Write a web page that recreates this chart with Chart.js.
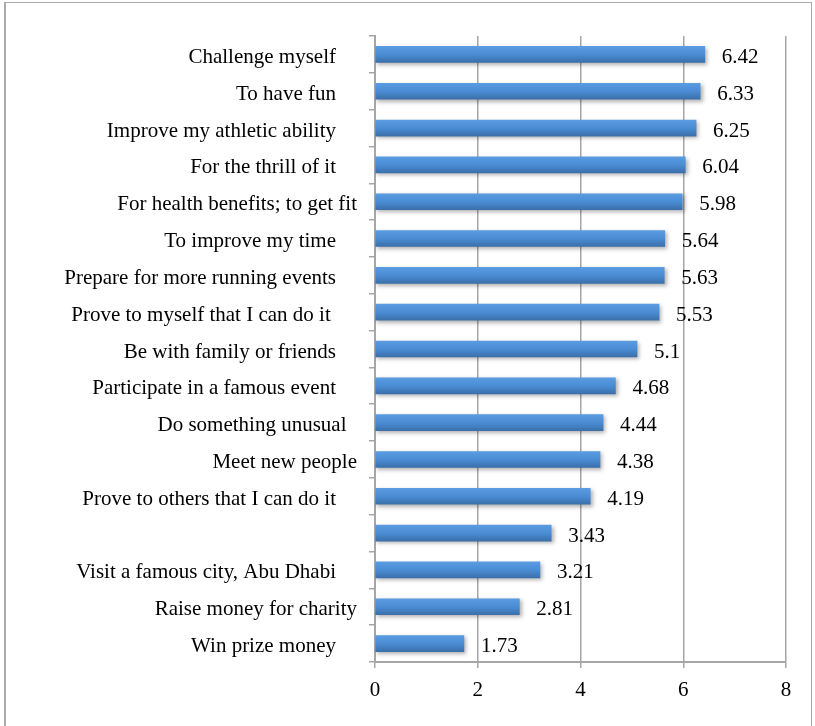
<!DOCTYPE html>
<html>
<head>
<meta charset="utf-8">
<script src="https://cdn.jsdelivr.net/npm/chart.js@4"></script>
<style>
  html, body { margin: 0; padding: 0; background: #fff; }
  #wrap { position: relative; width: 815px; height: 726px; }
  #frame { position: absolute; left: 4px; top: 2px; width: 808px; height: 730px; border: 1px solid #aaa; border-left-width: 2px; box-sizing: border-box; }
  canvas { position: absolute; left: 0; top: 0; }
</style>
</head>
<body>
<div id="wrap">
  <div id="frame"></div>
  <canvas id="motiveChart" width="815" height="726"></canvas>
</div>
<script>
const categories = [
  'Challenge myself    ',
  'To have fun    ',
  'Improve my athletic ability    ',
  'For the thrill of it    ',
  'For health benefits; to get fit',
  'To improve my time    ',
  'Prepare for more running events    ',
  'Prove to myself that I can do it     ',
  'Be with family or friends    ',
  'Participate in a famous event    ',
  'Do something unusual  ',
  'Meet new people',
  'Prove to others that I can do it    ',
  '',
  'Visit a famous city, Abu Dhabi    ',
  'Raise money for charity',
  'Win prize money    '
];
const meanScores = [6.42, 6.33, 6.25, 6.04, 5.98, 5.64, 5.63, 5.53, 5.1, 4.68, 4.44, 4.38, 4.19, 3.43, 3.21, 2.81, 1.73];
const xTicks = [0, 2, 4, 6, 8];

const serif = '"Liberation Serif", "Times New Roman", serif';

function barGradient(ctx) {
  const chart = ctx.chart;
  const y = chart.scales.y;
  if (!y || ctx.dataIndex === undefined) return '#4a8bd3';
  const cy = y.getPixelForValue(ctx.dataIndex);
  if (!isFinite(cy)) return '#4a8bd3';
  const g = chart.ctx.createLinearGradient(0, cy - 8, 0, cy + 8);
  g.addColorStop(0, '#5a9be1');
  g.addColorStop(0.5, '#4a8dd5');
  g.addColorStop(1, '#3b6faa');
  return g;
}

const shadowPlugin = {
  id: 'barShadow',
  beforeDatasetsDraw(chart) {
    const c = chart.ctx;
    c.save();
    c.shadowColor = 'rgba(0,0,0,0.3)';
    c.shadowBlur = 4;
    c.shadowOffsetX = 2;
    c.shadowOffsetY = 2;
  },
  afterDatasetsDraw(chart) {
    chart.ctx.restore();
  }
};

const valueLabels = {
  id: 'valueLabels',
  afterDatasetsDraw(chart) {
    const c = chart.ctx;
    const meta = chart.getDatasetMeta(0);
    c.save();
    c.font = '21px ' + serif;
    c.fillStyle = '#000';
    c.textAlign = 'left';
    c.textBaseline = 'middle';
    meta.data.forEach((bar, i) => {
      c.fillText(String(meanScores[i]), bar.x + 17, bar.y + 3);
    });
    c.restore();
  }
};

new Chart(document.getElementById('motiveChart'), {
  type: 'bar',
  data: {
    labels: categories,
    datasets: [{
      data: meanScores,
      backgroundColor: barGradient,
      borderWidth: 0,
      barThickness: 16
    }]
  },
  options: {
    indexAxis: 'y',
    responsive: false,
    animation: false,
    layout: { padding: { top: 36, right: 29, left: 0, bottom: 0 } },
    plugins: { legend: { display: false }, tooltip: { enabled: false } },
    scales: {
      x: {
        min: 0,
        max: 8,
        afterBuildTicks(scale) { scale.ticks = xTicks.map(v => ({ value: v })); },
        afterFit(scale) { scale.height = 64; },
        grid: { color: '#a6a6a6', lineWidth: 1.5, tickLength: 6, drawTicks: true },
        border: { color: '#a6a6a6', width: 2 },
        ticks: { color: '#000', font: { family: serif, size: 21 }, padding: 10 }
      },
      y: {
        afterFit(scale) { scale.width = 375; },
        grid: { offset: true, drawOnChartArea: false, color: '#a6a6a6', lineWidth: 1.5, tickLength: 6 },
        border: { color: '#a6a6a6', width: 2 },
        ticks: { color: '#000', font: { family: serif, size: 21 }, padding: 12, labelOffset: 3, autoSkip: false }
      }
    }
  },
  plugins: [shadowPlugin, valueLabels]
});
</script>
</body>
</html>
